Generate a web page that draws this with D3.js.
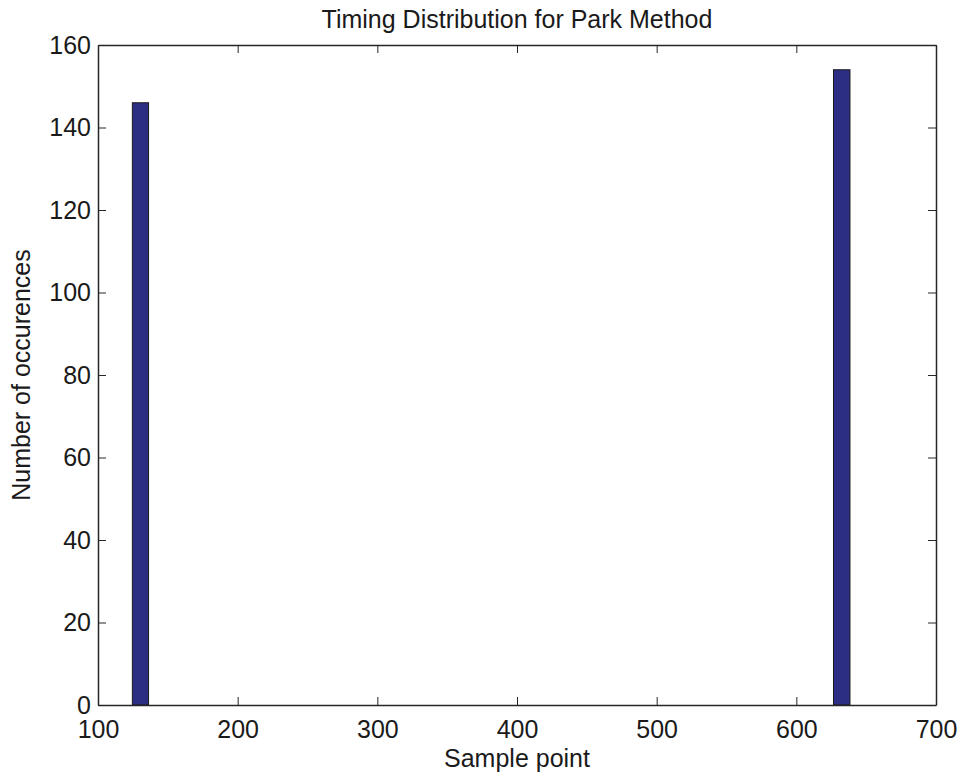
<!DOCTYPE html>
<html>
<head>
<meta charset="utf-8">
<script src="https://cdn.jsdelivr.net/npm/d3@7"></script>
<style>
  body { margin: 0; background: #fff; }
  svg { display: block; }
  text { font-family: "Liberation Sans", Arial, Helvetica, sans-serif; fill: #1a1a1a; }
</style>
</head>
<body>
<svg id="chart" width="965" height="777"></svg>
<script>
// Histogram bins (sample-point ranges) and their counts
const binStart = [124.6, 626.6];
const binEnd   = [136.2, 638.4];
const counts   = [146, 154];

const xTicks = [100, 200, 300, 400, 500, 600, 700];
const yTicks = [0, 20, 40, 60, 80, 100, 120, 140, 160];

const titleText = "Timing Distribution for Park Method";
const xLabel = "Sample point";
const yLabel = "Number of occurences";

const svg = d3.select("#chart");
const margin = { left: 98, right: 29, top: 45, bottom: 72 };
const W = 965, H = 777;
const x = d3.scaleLinear().domain([100, 700]).range([margin.left, W - margin.right]);
const y = d3.scaleLinear().domain([0, 160]).range([H - margin.bottom, margin.top]);

const tickLen = 8;
const axisColor = "#262626";
const fontSize = 25;

// bars
svg.append("g").selectAll("rect")
  .data(counts.map((c, i) => ({ x0: binStart[i], x1: binEnd[i], c })))
  .join("rect")
  .attr("x", d => x(d.x0))
  .attr("width", d => x(d.x1) - x(d.x0))
  .attr("y", d => y(d.c))
  .attr("height", d => y(0) - y(d.c))
  .attr("fill", "#2b2e83")
  .attr("stroke", "#1a1a1a")
  .attr("stroke-width", 1);

// bottom axis with inward ticks
const xAxis = svg.append("g")
  .attr("transform", `translate(0,${y(0)})`)
  .call(d3.axisBottom(x).tickValues(xTicks).tickSizeInner(-tickLen).tickSizeOuter(0).tickPadding(15));
// top axis (mirror ticks, no labels)
const xTop = svg.append("g")
  .attr("transform", `translate(0,${y(160)})`)
  .call(d3.axisTop(x).tickValues(xTicks).tickSizeInner(-tickLen).tickSizeOuter(0).tickFormat(""));
// left axis
const yAxis = svg.append("g")
  .attr("transform", `translate(${x(100)},0)`)
  .call(d3.axisLeft(y).tickValues(yTicks).tickSizeInner(-tickLen).tickSizeOuter(0).tickPadding(7));
// right axis (mirror ticks)
const yRight = svg.append("g")
  .attr("transform", `translate(${x(700)},0)`)
  .call(d3.axisRight(y).tickValues(yTicks).tickSizeInner(-tickLen).tickSizeOuter(0).tickFormat(""));

[xAxis, xTop, yAxis, yRight].forEach(g => {
  g.select(".domain").attr("stroke", axisColor).attr("stroke-width", 1.5);
  g.selectAll(".tick line").attr("stroke", axisColor).attr("stroke-width", 1);
  g.selectAll(".tick text").attr("font-size", fontSize).attr("fill", "#1a1a1a")
    .attr("font-family", '"Liberation Sans", Arial, sans-serif');
});

// title
svg.append("text")
  .attr("x", (x(100) + x(700)) / 2).attr("y", 28)
  .attr("text-anchor", "middle").attr("font-size", fontSize)
  .text(titleText);

// axis labels
svg.append("text")
  .attr("x", (x(100) + x(700)) / 2).attr("y", 767)
  .attr("text-anchor", "middle").attr("font-size", fontSize)
  .text(xLabel);

svg.append("text")
  .attr("transform", `translate(30,${(y(0) + y(160)) / 2}) rotate(-90)`)
  .attr("text-anchor", "middle").attr("font-size", fontSize)
  .text(yLabel);
</script>
</body>
</html>
